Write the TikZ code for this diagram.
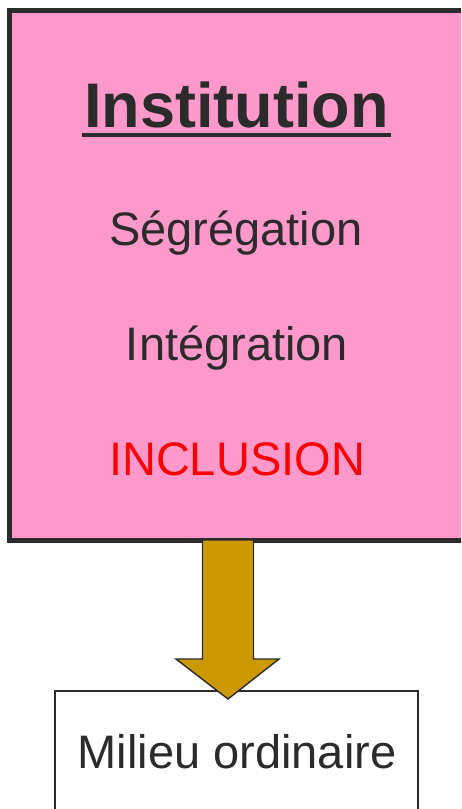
\documentclass[tikz,border=0pt]{standalone}
\usepackage{fontspec}
\setmainfont{Liberation Sans}
\usetikzlibrary{calc}
\definecolor{pinkfill}{HTML}{FF99CC}
\definecolor{gold}{HTML}{CC9900}
\definecolor{ink}{HTML}{2B2B2B}
\begin{document}
\begin{tikzpicture}[x=1pt,y=-1pt,
  txt/.style={font=\fontsize{47}{56}\selectfont, text=ink, inner sep=0pt, anchor=base},
  boxline/.style={draw=ink}]
\useasboundingbox (0,0) rectangle (461,809);
\clip (0,0) rectangle (461,809);
% institution box
\path[fill=pinkfill, draw=ink, line width=5pt] (9.5,10) rectangle (480,540);
\node[coordinate] (boxbottom) at (228,540) {};
\node[txt, font=\fontsize{63}{70}\selectfont\bfseries] (inst) at (236.5,127) {Institution};
\draw[ink, line width=4pt] (82,135) -- (391,135);
\node[txt] (seg) at (236,245) {Ségrégation};
\node[txt] (integ) at (237,360) {Intégration};
\node[txt, text=red] (incl) at (237,475) {INCLUSION};
% milieu box
\path[fill=white, draw=ink, line width=1.3pt] (55,691) rectangle (418,830);
\node[txt] (mil) at (237,768) {Milieu ordinaire};
\node[coordinate] (tip) at (228,699) {};
% block arrow
\draw[fill=gold, draw=ink, line width=1.4pt, line join=miter]
  ($(boxbottom)+(-25.5,0)$) -- ($(boxbottom)+(25.5,0)$) -- ($(boxbottom)+(25.5,119)$)
  -- ($(boxbottom)+(51,119)$) -- (tip) -- ($(boxbottom)+(-52,119)$)
  -- ($(boxbottom)+(-25.5,119)$) -- cycle;
\end{tikzpicture}
\end{document}
